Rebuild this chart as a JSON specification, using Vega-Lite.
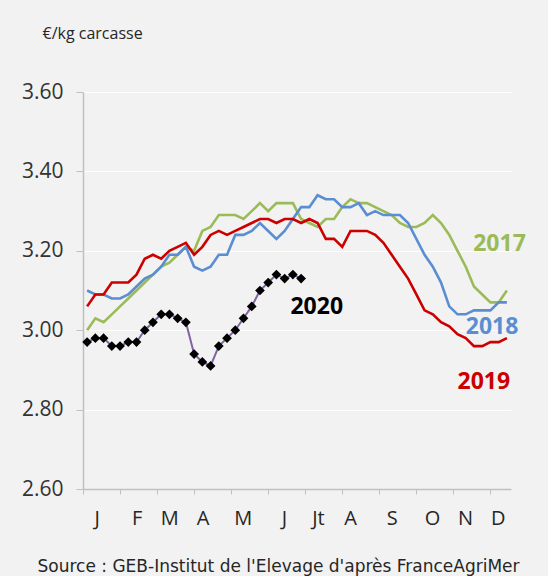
{
  "$schema": "https://vega.github.io/schema/vega-lite/v6.json",
  "width": 428,
  "height": 397,
  "autosize": {"type": "none"},
  "padding": {"left": 83, "top": 92, "right": 37, "bottom": 87},
  "background": "#f2f2f2",
  "config": {"view": {"stroke": null}, "font": "Open Sans"},
  "data": {"values": [
    {"week": 1, "2017": 3.00, "2018": 3.10, "2019": 3.06, "2020": 2.97},
    {"week": 2, "2017": 3.03, "2018": 3.09, "2019": 3.09, "2020": 2.98},
    {"week": 3, "2017": 3.02, "2018": 3.09, "2019": 3.09, "2020": 2.98},
    {"week": 4, "2017": 3.04, "2018": 3.08, "2019": 3.12, "2020": 2.96},
    {"week": 5, "2017": 3.06, "2018": 3.08, "2019": 3.12, "2020": 2.96},
    {"week": 6, "2017": 3.08, "2018": 3.09, "2019": 3.12, "2020": 2.97},
    {"week": 7, "2017": 3.10, "2018": 3.11, "2019": 3.14, "2020": 2.97},
    {"week": 8, "2017": 3.12, "2018": 3.13, "2019": 3.18, "2020": 3.00},
    {"week": 9, "2017": 3.14, "2018": 3.14, "2019": 3.19, "2020": 3.02},
    {"week": 10, "2017": 3.16, "2018": 3.16, "2019": 3.18, "2020": 3.04},
    {"week": 11, "2017": 3.17, "2018": 3.19, "2019": 3.20, "2020": 3.04},
    {"week": 12, "2017": 3.19, "2018": 3.19, "2019": 3.21, "2020": 3.03},
    {"week": 13, "2017": 3.21, "2018": 3.21, "2019": 3.22, "2020": 3.02},
    {"week": 14, "2017": 3.20, "2018": 3.16, "2019": 3.19, "2020": 2.94},
    {"week": 15, "2017": 3.25, "2018": 3.15, "2019": 3.21, "2020": 2.92},
    {"week": 16, "2017": 3.26, "2018": 3.16, "2019": 3.24, "2020": 2.91},
    {"week": 17, "2017": 3.29, "2018": 3.19, "2019": 3.25, "2020": 2.96},
    {"week": 18, "2017": 3.29, "2018": 3.19, "2019": 3.24, "2020": 2.98},
    {"week": 19, "2017": 3.29, "2018": 3.24, "2019": 3.25, "2020": 3.00},
    {"week": 20, "2017": 3.28, "2018": 3.24, "2019": 3.26, "2020": 3.03},
    {"week": 21, "2017": 3.30, "2018": 3.25, "2019": 3.27, "2020": 3.06},
    {"week": 22, "2017": 3.32, "2018": 3.27, "2019": 3.28, "2020": 3.10},
    {"week": 23, "2017": 3.30, "2018": 3.25, "2019": 3.28, "2020": 3.12},
    {"week": 24, "2017": 3.32, "2018": 3.23, "2019": 3.27, "2020": 3.14},
    {"week": 25, "2017": 3.32, "2018": 3.25, "2019": 3.28, "2020": 3.13},
    {"week": 26, "2017": 3.32, "2018": 3.28, "2019": 3.28, "2020": 3.14},
    {"week": 27, "2017": 3.28, "2018": 3.31, "2019": 3.27, "2020": 3.13},
    {"week": 28, "2017": 3.27, "2018": 3.31, "2019": 3.28},
    {"week": 29, "2017": 3.26, "2018": 3.34, "2019": 3.27},
    {"week": 30, "2017": 3.28, "2018": 3.33, "2019": 3.23},
    {"week": 31, "2017": 3.28, "2018": 3.33, "2019": 3.23},
    {"week": 32, "2017": 3.31, "2018": 3.31, "2019": 3.21},
    {"week": 33, "2017": 3.33, "2018": 3.31, "2019": 3.25},
    {"week": 34, "2017": 3.32, "2018": 3.32, "2019": 3.25},
    {"week": 35, "2017": 3.32, "2018": 3.29, "2019": 3.25},
    {"week": 36, "2017": 3.31, "2018": 3.30, "2019": 3.24},
    {"week": 37, "2017": 3.30, "2018": 3.29, "2019": 3.22},
    {"week": 38, "2017": 3.29, "2018": 3.29, "2019": 3.19},
    {"week": 39, "2017": 3.27, "2018": 3.29, "2019": 3.16},
    {"week": 40, "2017": 3.26, "2018": 3.27, "2019": 3.13},
    {"week": 41, "2017": 3.26, "2018": 3.23, "2019": 3.09},
    {"week": 42, "2017": 3.27, "2018": 3.19, "2019": 3.05},
    {"week": 43, "2017": 3.29, "2018": 3.16, "2019": 3.04},
    {"week": 44, "2017": 3.27, "2018": 3.12, "2019": 3.02},
    {"week": 45, "2017": 3.24, "2018": 3.06, "2019": 3.01},
    {"week": 46, "2017": 3.20, "2018": 3.04, "2019": 2.99},
    {"week": 47, "2017": 3.16, "2018": 3.04, "2019": 2.98},
    {"week": 48, "2017": 3.11, "2018": 3.05, "2019": 2.96},
    {"week": 49, "2017": 3.09, "2018": 3.05, "2019": 2.96},
    {"week": 50, "2017": 3.07, "2018": 3.05, "2019": 2.97},
    {"week": 51, "2017": 3.07, "2018": 3.07, "2019": 2.97},
    {"week": 52, "2017": 3.10, "2018": 3.07, "2019": 2.98}
  ]},
  "layer": [
    {
      "transform": [
        {"fold": ["2017", "2018", "2019", "2020"], "as": ["year", "price"]},
        {"filter": "isValid(datum.price) && datum.year != '2020'"}
      ],
      "mark": {"type": "line", "strokeWidth": 2.6},
      "encoding": {
        "x": {
          "field": "week", "type": "quantitative",
          "scale": {"domain": [0.5, 52.5], "nice": false, "zero": false},
          "axis": {
            "orient": "bottom", "title": null,
            "values": [0.5, 5, 9.5, 14, 18.5, 23, 27.5, 32, 36.5, 41, 45.5, 50],
            "labels": false, "grid": false,
            "domainColor": "#c0c0c0", "domainWidth": 1.5,
            "tickColor": "#c0c0c0", "tickSize": 5, "tickWidth": 1
          }
        },
        "y": {
          "field": "price", "type": "quantitative",
          "scale": {"domain": [2.6, 3.6], "nice": false, "zero": false},
          "axis": {
            "values": [2.6, 2.8, 3.0, 3.2, 3.4, 3.6],
            "format": ".2f",
            "labelFontSize": 21, "labelColor": "#333333", "labelPadding": 13,
            "grid": true, "gridColor": "#ffffff", "gridWidth": 1.2,
            "domainColor": "#c0c0c0", "domainWidth": 1.5,
            "tickColor": "#c0c0c0", "tickSize": 7,
            "title": "€/kg carcasse", "titleAngle": 0,
            "titleX": -41, "titleY": -54,
            "titleAlign": "left", "titleBaseline": "alphabetic",
            "titleFontSize": 16, "titleFontWeight": "normal", "titleColor": "#262626"
          }
        },
        "color": {
          "field": "year", "type": "nominal",
          "scale": {"domain": ["2017", "2018", "2019"], "range": ["#9bbb59", "#5b8ed0", "#cc0000"]},
          "legend": null
        }
      }
    },
    {
      "transform": [
        {"fold": ["2017", "2018", "2019", "2020"], "as": ["year", "price"]},
        {"filter": "isValid(datum.price) && datum.year == '2020'"}
      ],
      "mark": {"type": "line", "strokeWidth": 2, "color": "#8064a2"},
      "encoding": {
        "x": {
          "field": "week", "type": "quantitative",
          "axis": {
            "orient": "bottom",
            "values": [2.16, 7.02, 10.99, 15.04, 19.9, 24.9, 29.05, 32.94, 38.0, 42.9, 46.9, 50.9],
            "labelExpr": "['J','F','M','A','M','J','Jt','A','S','O','N','D'][round(datum.index*11)]",
            "ticks": false, "domain": false, "grid": false,
            "labelFontSize": 20, "labelColor": "#262626", "labelPadding": 19,
            "labelOverlap": false, "labelFlush": false,
            "title": "Source : GEB-Institut de l'Elevage d'après FranceAgriMer",
            "titleAnchor": "start", "titleAlign": "left", "titleBaseline": "alphabetic",
            "titleX": -46, "titleY": 82, "titleLimit": 1000,
            "titleFont": "DejaVu Sans",
            "titleFontSize": 17, "titleFontWeight": "normal", "titleColor": "#262626"
          }
        },
        "y": {"field": "price", "type": "quantitative"}
      }
    },
    {
      "transform": [
        {"fold": ["2017", "2018", "2019", "2020"], "as": ["year", "price"]},
        {"filter": "isValid(datum.price) && datum.year == '2020'"}
      ],
      "mark": {"type": "point", "shape": "diamond", "filled": true, "color": "#000000", "size": 95, "opacity": 1},
      "encoding": {
        "x": {"field": "week", "type": "quantitative", "axis": null},
        "y": {"field": "price", "type": "quantitative"}
      }
    },
    {
      "data": {"values": [{}]},
      "mark": {"type": "text", "text": "2017", "fontSize": 23, "fontWeight": "bold", "color": "#9bbb59", "align": "center", "baseline": "middle"},
      "encoding": {
        "x": {"datum": 51.1, "type": "quantitative", "axis": null},
        "y": {"datum": 3.217, "type": "quantitative"}
      }
    },
    {
      "data": {"values": [{}]},
      "mark": {"type": "text", "text": "2018", "fontSize": 23, "fontWeight": "bold", "color": "#5b8ed0", "align": "center", "baseline": "middle"},
      "encoding": {
        "x": {"datum": 50.2, "type": "quantitative", "axis": null},
        "y": {"datum": 3.009, "type": "quantitative"}
      }
    },
    {
      "data": {"values": [{}]},
      "mark": {"type": "text", "text": "2019", "fontSize": 23, "fontWeight": "bold", "color": "#cc0000", "align": "center", "baseline": "middle"},
      "encoding": {
        "x": {"datum": 49.2, "type": "quantitative", "axis": null},
        "y": {"datum": 2.869, "type": "quantitative"}
      }
    },
    {
      "data": {"values": [{}]},
      "mark": {"type": "text", "text": "2020", "fontSize": 23, "fontWeight": "bold", "color": "#000000", "align": "center", "baseline": "middle"},
      "encoding": {
        "x": {"datum": 28.9, "type": "quantitative", "axis": null},
        "y": {"datum": 3.059, "type": "quantitative"}
      }
    }
  ],
  "resolve": {"axis": {"x": "independent"}}
}
